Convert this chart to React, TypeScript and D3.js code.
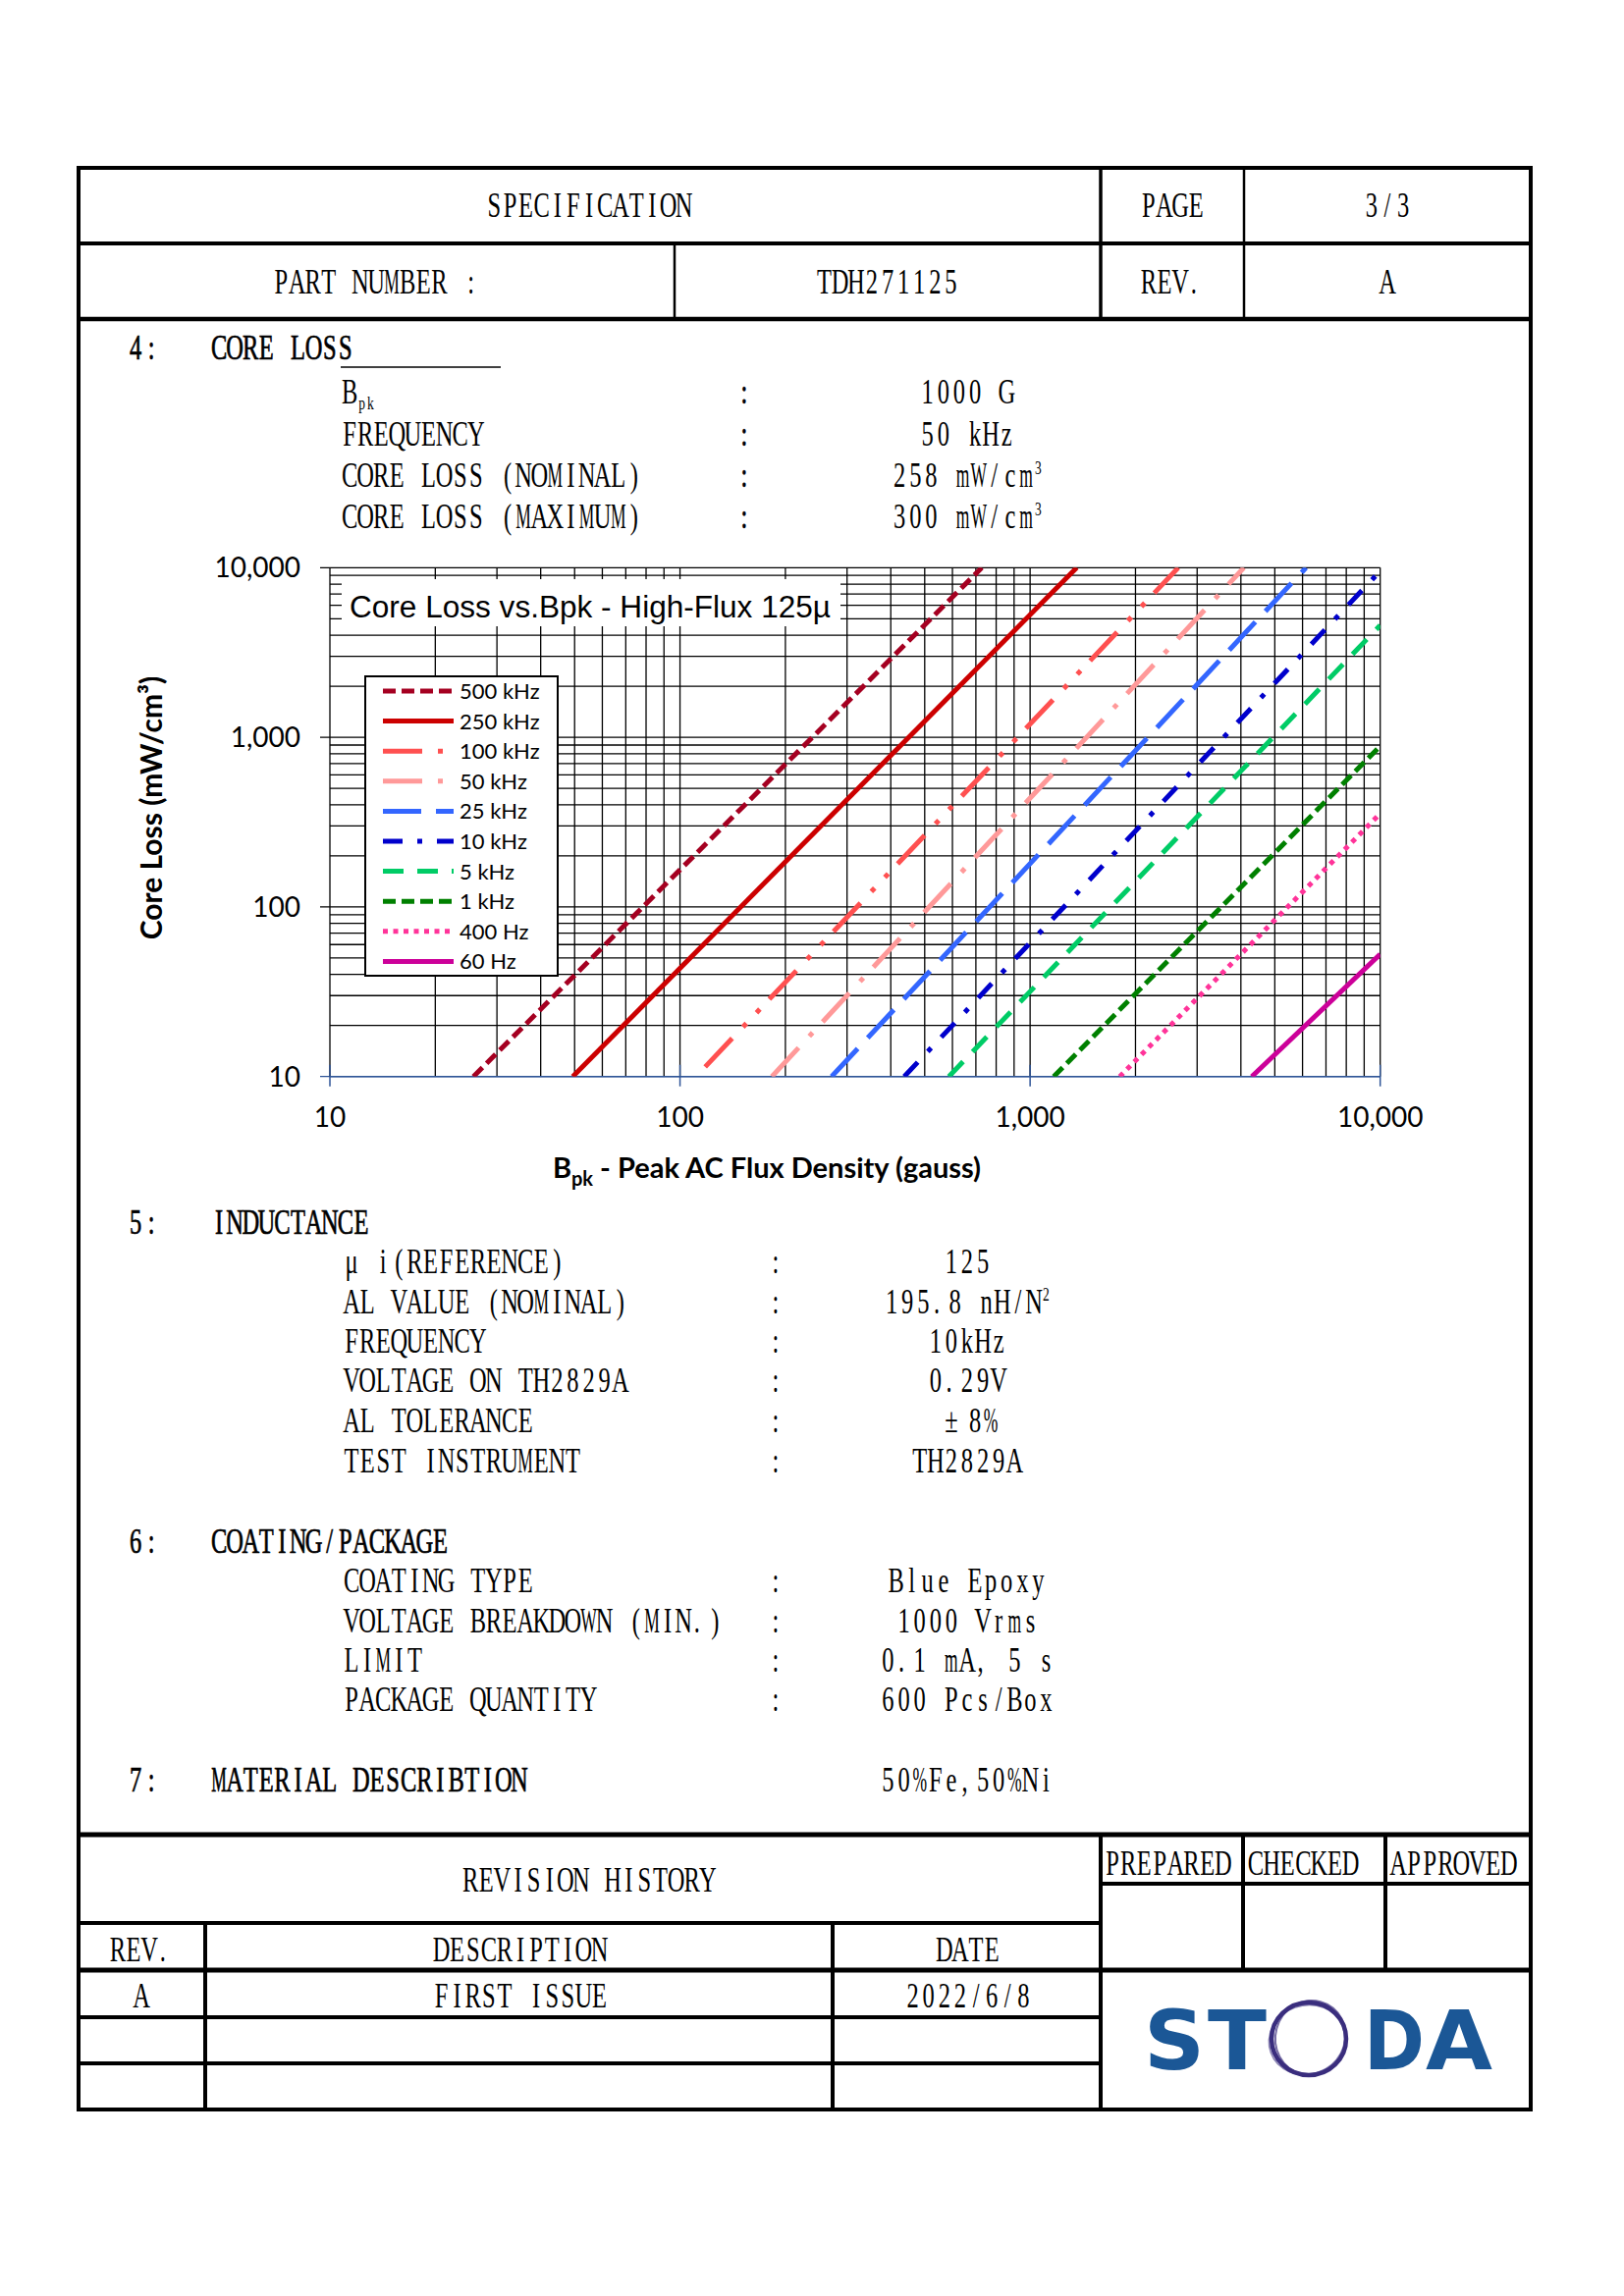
import React from 'react';
import * as d3 from 'd3';

const pageW = 1654;
const pageH = 2339;

// ---- chart values ----
const seriesNames = ['500 kHz', '250 kHz', '100 kHz', '50 kHz', '25 kHz', '10 kHz', '5 kHz', '1 kHz', '400 Hz', '60 Hz'];
// every curve is a straight run on the log-log paper, so its two ends describe it
const bpkFrom = [25.7, 49.4, 118, 183, 271, 437, 586, 1168, 1803, 4297];
const lossFrom = [10, 10, 11.4, 10, 10, 10, 10, 10, 10, 10];
const bpkTo = [728, 1359, 2650, 4080, 6140, 10000, 10000, 10000, 10000, 10000];
const lossTo = [10000, 10000, 10000, 10000, 10000, 9550, 4570, 887, 355, 52.6];
const decadeTicks = [10, 100, 1000, 10000];
const xTickLabels = ['10', '100', '1,000', '10,000'];
const yTickLabels = ['10', '100', '1,000', '10,000'];

// ---- spec sheet text ----
const coreLossLabels = ['B_pk', 'FREQUENCY', 'CORE LOSS (NOMINAL)', 'CORE LOSS (MAXIMUM)'];
const coreLossValues = ['1000 G', '50 kHz', '258 mW/cm^3', '300 mW/cm^3'];
const inductanceLabels = ['μ i(REFERENCE)', 'AL VALUE (NOMINAL)', 'FREQUENCY', 'VOLTAGE ON TH2829A', 'AL TOLERANCE', 'TEST INSTRUMENT'];
const inductanceValues = ['125', '195.8 nH/N^2', '10kHz', '0.29V', '±8%', 'TH2829A'];
const coatingLabels = ['COATING TYPE', 'VOLTAGE BREAKDOWN (MIN.)', 'LIMIT', 'PACKAGE QUANTITY'];
const coatingValues = ['Blue Epoxy', '1000 Vrms', '0.1 mA, 5 s', '600 Pcs/Box'];

// styles for the curves (kept apart from the values)
const seriesColors = ['#A50021', '#CC0000', '#FF5050', '#FF9999', '#3366FF', '#0000CC', '#00CC66', '#008000', '#FF3399', '#CC0099'];
const seriesDash = ['13,6', null, '40,16,5,15,5,14', '40,16,5,15', '39,15', '20,15,5,15', '21,14', '13,6', '5,5.5', null];

// plot box
const PL = 336, PR = 1405.7, PT = 578.3, PB = 1096.7;

const CW = 16.1;  // half-width cell of the sheet's narrow serif font
const FS = 35;
const K = 0.7;    // horizontal squeeze of the glyphs
const KWIDE = 0.5; // stronger squeeze for the wide glyphs
const WIDE = 'MWmw%';
const serif = "'Liberation Serif', 'DejaVu Serif', serif";
const sans = "Lato, 'Open Sans', sans-serif";

type Run = { t: string; kind: string };

const parseRuns = (s: string): Run[] => {
  const out: Run[] = [];
  const re = /_(\w+)|\^(\w)/g;
  let last = 0;
  let m: any;
  while ((m = re.exec(s))) {
    if (m.index > last) out.push({ t: s.slice(last, m.index), kind: 'n' });
    out.push(m[1] ? { t: m[1], kind: 'sub' } : { t: m[2], kind: 'sup' });
    last = re.lastIndex;
  }
  if (last < s.length) out.push({ t: s.slice(last), kind: 'n' });
  return out;
};

const cellUnits = (c: string) => (c === '±' ? 2 : 1);

// monospaced text: every glyph centred in its own cell
function Mono({ x, y, s, anchor = 'start', bold = false }: any) {
  const runs = parseRuns(s);
  const cells = runs.map((r) => CW * (r.kind === 'n' ? 1 : 0.55));
  const widths = runs.map((r, i) => Array.from(r.t).reduce((a, c) => a + cellUnits(c), 0) * cells[i]);
  const total = d3.sum(widths);
  let cx = anchor === 'middle' ? x - total / 2 : x;
  const pieces: any[] = [];
  runs.forEach((r, i) => {
    const dy = r.kind === 'sub' ? 6 : r.kind === 'sup' ? -13 : 0;
    const fs = r.kind === 'n' ? FS : FS * 0.55;
    // group neighbouring glyphs that share a squeeze
    let seg: { t: string; c: number[]; k: number } | null = null;
    const segs: { t: string; c: number[]; k: number }[] = [];
    Array.from(r.t).forEach((ch) => {
      const w = cellUnits(ch) * cells[i];
      const shift = ch === '.' || ch === ',' ? -w * 0.15 : 0;
      const k = WIDE.includes(ch) ? KWIDE : K;
      if (!seg || seg.k !== k) {
        seg = { t: '', c: [], k };
        segs.push(seg);
      }
      seg.t += ch;
      seg.c.push(cx + w / 2 + shift);
      cx += w;
    });
    segs.forEach((sg, j) => {
      pieces.push(
        <text key={i + '-' + j} transform={`scale(${sg.k},1)`} x={sg.c.map((c) => (c / sg.k).toFixed(2)).join(' ')}
          y={y + dy} textAnchor="middle" fontSize={fs} style={{ whiteSpace: 'pre' }}
          stroke={bold ? '#000' : 'none'} strokeWidth={bold ? 0.7 : 0}>{sg.t}</text>
      );
    });
  });
  return <g fontFamily={serif} fill="#000">{pieces}</g>;
}

function Chart() {
  const x = d3.scaleLog().domain([10, 10000]).range([PL, PR]);
  const y = d3.scaleLog().domain([10, 10000]).range([PB, PT]);
  const gridX = x.ticks();
  const gridY = y.ticks();
  const line = d3.line<[number, number]>().x((d) => x(d[0])).y((d) => y(d[1]));
  const axisBlue = '#2F5597';

  return (
    <g>
      <defs>
        <clipPath id="plotClip">
          <rect x={PL} y={PT} width={PR - PL} height={PB - PT} />
        </clipPath>
      </defs>

      {/* log grid */}
      {gridY.map((v, i) => (
        <line key={'gy' + i} x1={decadeTicks.includes(v) ? PL - 10 : PL} x2={PR}
          y1={y(v)} y2={y(v)} stroke={v === 10 ? axisBlue : '#000'} strokeWidth={1.3} />
      ))}
      {gridX.map((v, i) => (
        <line key={'gx' + i} x1={x(v)} x2={x(v)} y1={PT} y2={PB} stroke="#000" strokeWidth={1.3} />
      ))}
      {decadeTicks.map((v, i) => (
        <line key={'xt' + i} x1={x(v)} x2={x(v)} y1={PB - 12} y2={PB + 10} stroke={axisBlue} strokeWidth={1.5} />
      ))}
      <line x1={PL} x2={PR} y1={PB} y2={PB} stroke={axisBlue} strokeWidth={1.5} />

      {/* tick labels */}
      {decadeTicks.map((v, i) => (
        <text key={'yl' + i} x={306} y={y(v) + 10} textAnchor="end" fontFamily={sans} fontSize={28}>{yTickLabels[i]}</text>
      ))}
      {decadeTicks.map((v, i) => (
        <text key={'xl' + i} x={x(v)} y={1148} textAnchor="middle" fontFamily={sans} fontSize={28}>{xTickLabels[i]}</text>
      ))}

      {/* axis titles */}
      <text transform="translate(165,823) rotate(-90)" textAnchor="middle" fontFamily={sans} fontWeight="bold" fontSize={30}>
        Core Loss (mW/cm³)
      </text>
      <text x={781} y={1200} textAnchor="middle" fontFamily={sans} fontWeight="bold" fontSize={29}>
        B<tspan dy={8} fontSize={20}>pk</tspan><tspan dy={-8}> - Peak AC Flux Density (gauss)</tspan>
      </text>

      {/* chart title */}
      <rect x={348} y={590} width={508} height={48} fill="#fff" />
      <text x={356} y={629} fontFamily="'Liberation Sans', Arial, sans-serif" fontSize={31}
        textLength={490} lengthAdjust="spacingAndGlyphs">Core Loss vs.Bpk - High-Flux 125µ</text>

      {/* curves */}
      <g clipPath="url(#plotClip)">
        {seriesNames.map((name, i) => (
          <path key={name} d={line([[bpkFrom[i], lossFrom[i]], [bpkTo[i], lossTo[i]]]) || ''}
            fill="none" stroke={seriesColors[i]} strokeWidth={5}
            strokeDasharray={seriesDash[i] || undefined} strokeLinecap="butt" />
        ))}
      </g>

      {/* legend */}
      <rect x={372} y={689} width={196} height={305} fill="#fff" stroke="#000" strokeWidth={2} />
      {seriesNames.map((name, i) => {
        const ly = 704 + i * 30.6;
        return (
          <g key={'lg' + name}>
            <line x1={390} x2={462} y1={ly} y2={ly} stroke={seriesColors[i]} strokeWidth={5}
              strokeDasharray={seriesDash[i] || undefined} />
            <text x={468} y={ly + 8} fontFamily={sans} fontSize={22}>{name}</text>
          </g>
        );
      })}
    </g>
  );
}

function Logo() {
  const blue = '#1B5796';
  const purple = '#3A2E7E';
  const letters: [string, number, number][] = [['S', 1165, 62], ['T', 1230, 60], ['D', 1389, 62], ['A', 1452, 68]];
  return (
    <g>
      {letters.map(([c, lx, lw]) => (
        <text key={c} x={lx} y={2108} fontFamily="'DejaVu Sans', sans-serif" textLength={lw}
          lengthAdjust="spacingAndGlyphs" fontWeight="bold" fontSize={84} fill={blue}>{c}</text>
      ))}
      <ellipse cx={1333} cy={2077} rx={38} ry={37} fill="none" stroke={purple} strokeWidth={4.5} />
      <ellipse cx={1335} cy={2076} rx={36} ry={38} fill="none" stroke={purple} strokeWidth={2} opacity={0.7}
        transform="rotate(15,1335,2076)" />
      <ellipse cx={1331} cy={2078} rx={39} ry={35} fill="none" stroke={purple} strokeWidth={1.5} opacity={0.6}
        transform="rotate(-20,1331,2078)" />
    </g>
  );
}

export default function App() {
  const L = 80, R = 1559, T = 171, B = 2149;
  const rowY4 = [411, 454, 496, 538];
  const rowY5 = [1297, 1338, 1378, 1418, 1459, 1500];
  const rowY6 = [1622, 1663, 1703, 1743];
  const valueX = 985;

  return (
    <svg width={pageW} height={pageH} viewBox={`0 0 ${pageW} ${pageH}`}
      style={{ position: 'absolute', left: 0, top: 0, display: 'block', background: '#fff' }}>
      <rect width={pageW} height={pageH} fill="#fff" />

      {/* header frame */}
      <g stroke="#000" fill="none">
        <rect x={L} y={T} width={R - L} height={B - T} strokeWidth={4} />
        <line x1={L} x2={R} y1={248} y2={248} strokeWidth={4} />
        <line x1={L} x2={R} y1={325} y2={325} strokeWidth={4.5} />
        <line x1={1121} x2={1121} y1={T} y2={325} strokeWidth={3.5} />
        <line x1={1267} x2={1267} y1={T} y2={325} strokeWidth={2.5} />
        <line x1={687} x2={687} y1={248} y2={325} strokeWidth={2.5} />
      </g>
      <Mono x={600} y={221} s="SPECIFICATION" anchor="middle" />
      <Mono x={1194} y={221} s="PAGE" anchor="middle" />
      <Mono x={1413} y={221} s="3/3" anchor="middle" />
      <Mono x={383} y={299} s="PART NUMBER :" anchor="middle" />
      <Mono x={904} y={299} s="TDH271125" anchor="middle" />
      <Mono x={1194} y={299} s="REV." anchor="middle" />
      <Mono x={1413} y={299} s="A" anchor="middle" />

      {/* 4: core loss */}
      <Mono x={130} y={366} s="4:" bold />
      <Mono x={215} y={366} s="CORE LOSS" bold />
      <line x1={347} x2={510} y1={374} y2={374} stroke="#000" strokeWidth={1.5} />
      {coreLossLabels.map((lab, i) => (
        <g key={'c4' + i}>
          <Mono x={348} y={rowY4[i]} s={lab} />
          <Mono x={758} y={rowY4[i]} s=":" anchor="middle" bold />
          <Mono x={valueX} y={rowY4[i]} s={coreLossValues[i]} anchor="middle" />
        </g>
      ))}

      <Chart />

      {/* 5: inductance */}
      <Mono x={130} y={1257} s="5:" bold />
      <Mono x={215} y={1257} s="INDUCTANCE" bold />
      {inductanceLabels.map((lab, i) => (
        <g key={'c5' + i}>
          <Mono x={350} y={rowY5[i]} s={lab} />
          <Mono x={790} y={rowY5[i]} s=":" anchor="middle" />
          <Mono x={valueX} y={rowY5[i]} s={inductanceValues[i]} anchor="middle" />
        </g>
      ))}

      {/* 6: coating / package */}
      <Mono x={130} y={1582} s="6:" bold />
      <Mono x={215} y={1582} s="COATING/PACKAGE" bold />
      {coatingLabels.map((lab, i) => (
        <g key={'c6' + i}>
          <Mono x={350} y={rowY6[i]} s={lab} />
          <Mono x={790} y={rowY6[i]} s=":" anchor="middle" />
          <Mono x={valueX} y={rowY6[i]} s={coatingValues[i]} anchor="middle" />
        </g>
      ))}

      {/* 7: material */}
      <Mono x={130} y={1825} s="7:" bold />
      <Mono x={215} y={1825} s="MATERIAL DESCRIBTION" bold />
      <Mono x={valueX} y={1825} s="50%Fe,50%Ni" anchor="middle" />

      {/* revision block */}
      <g stroke="#000" fill="none" strokeWidth={4}>
        <line x1={L} x2={R} y1={1869} y2={1869} strokeWidth={5} />
        <line x1={L} x2={1121} y1={1959} y2={1959} />
        <line x1={L} x2={R} y1={2007} y2={2007} strokeWidth={5} />
        <line x1={L} x2={1121} y1={2055} y2={2055} />
        <line x1={L} x2={1121} y1={2102} y2={2102} />
        <line x1={1121} x2={R} y1={1919} y2={1919} />
        <line x1={209} x2={209} y1={1959} y2={B} />
        <line x1={848} x2={848} y1={1959} y2={B} />
        <line x1={1121} x2={1121} y1={1869} y2={B} />
        <line x1={1266} x2={1266} y1={1869} y2={2007} />
        <line x1={1411} x2={1411} y1={1869} y2={2007} />
      </g>
      <Mono x={600} y={1927} s="REVISION HISTORY" anchor="middle" />
      <Mono x={1125} y={1910} s="PREPARED" />
      <Mono x={1271} y={1910} s="CHECKED" />
      <Mono x={1416} y={1910} s="APPROVED" />
      <Mono x={144} y={1998} s="REV." anchor="middle" />
      <Mono x={530} y={1998} s="DESCRIPTION" anchor="middle" />
      <Mono x={986} y={1998} s="DATE" anchor="middle" />
      <Mono x={144} y={2045} s="A" anchor="middle" />
      <Mono x={530} y={2045} s="FIRST ISSUE" anchor="middle" />
      <Mono x={986} y={2045} s="2022/6/8" anchor="middle" />

      <Logo />
    </svg>
  );
}
